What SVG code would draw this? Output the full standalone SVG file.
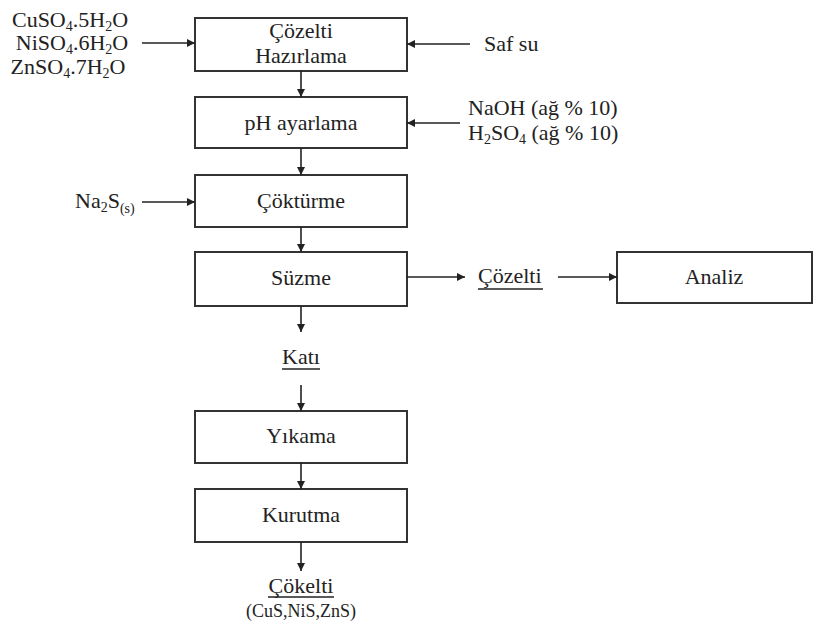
<svg xmlns="http://www.w3.org/2000/svg" width="818" height="626" viewBox="0 0 818 626" font-family="'Liberation Serif', 'DejaVu Serif', serif">
<style>
.box{fill:#fff;stroke:#333;stroke-width:2}
text{font-family:"Liberation Serif","DejaVu Serif",serif;font-size:22px;fill:#222}
.c{text-anchor:middle}
.sm{font-size:18px}
.con line{stroke:#222;stroke-width:1.6;marker-end:url(#ah)}
.ul{stroke:#222;stroke-width:1.3}
</style>
<defs>
<marker id="ah" viewBox="0 0 10 10" refX="10" refY="5" markerWidth="10" markerHeight="8" markerUnits="userSpaceOnUse" orient="auto">
<path d="M0,0 L10,5 L0,10 z" fill="#222"/>
</marker>
</defs>
<rect width="818" height="626" fill="#fff"/>
<g id="n-cozelti-hazirlama"><rect class="box" x="195" y="18" width="212" height="53"/>
<text class="c" x="301" y="38">Çözelti</text><text class="c" x="301" y="63">Hazırlama</text></g>
<g id="n-ph"><rect class="box" x="195" y="97" width="212" height="51"/><text class="c" x="301" y="130">pH ayarlama</text></g>
<g id="n-cokturme"><rect class="box" x="195" y="175" width="212" height="52"/><text class="c" x="301" y="208">Çöktürme</text></g>
<g id="n-suzme"><rect class="box" x="195" y="252" width="212" height="54"/><text class="c" x="301" y="285">Süzme</text></g>
<g id="n-analiz"><rect class="box" x="617" y="252" width="195" height="51"/><text class="c" x="714" y="284">Analiz</text></g>
<g id="n-yikama"><rect class="box" x="195" y="411" width="212" height="52"/><text class="c" x="301" y="443">Yıkama</text></g>
<g id="n-kurutma"><rect class="box" x="195" y="489" width="212" height="53"/><text class="c" x="301" y="522">Kurutma</text></g>
<g id="n-inputs">
<text class="c" x="70" y="27">CuSO<tspan font-size="14" dy="4">4</tspan><tspan dy="-4">.5H</tspan><tspan font-size="14" dy="4">2</tspan><tspan dy="-4">O</tspan></text>
<text class="c" x="72" y="50">NiSO<tspan font-size="14" dy="4">4</tspan><tspan dy="-4">.6H</tspan><tspan font-size="14" dy="4">2</tspan><tspan dy="-4">O</tspan></text>
<text class="c" x="68" y="74">ZnSO<tspan font-size="14" dy="4">4</tspan><tspan dy="-4">.7H</tspan><tspan font-size="14" dy="4">2</tspan><tspan dy="-4">O</tspan></text>
</g>
<g id="n-safsu"><text x="484" y="51">Saf su</text></g>
<g id="n-naoh">
<text x="468" y="115">NaOH (ağ % 10)</text>
<text x="468" y="140">H<tspan font-size="14" dy="4">2</tspan><tspan dy="-4">SO</tspan><tspan font-size="14" dy="4">4</tspan><tspan dy="-4"> (ağ % 10)</tspan></text>
</g>
<g id="n-na2s"><text x="75" y="208">Na<tspan font-size="14" dy="4">2</tspan><tspan dy="-4">S</tspan><tspan font-size="14" dy="5">(s)</tspan></text></g>
<g id="n-cozelti"><text x="478" y="283">Çözelti</text><line class="ul" x1="478" y1="289" x2="543" y2="289"/></g>
<g id="n-kati"><text class="c" x="301" y="364">Katı</text><line class="ul" x1="282" y1="369" x2="320" y2="369"/></g>
<g id="n-cokelti"><text class="c" x="301" y="593">Çökelti</text><line class="ul" x1="268" y1="597" x2="334" y2="597"/>
<text class="c sm" x="301" y="617">(CuS,NiS,ZnS)</text></g>
<g class="con" id="connectors">
<line x1="301" y1="71" x2="301" y2="97"/>
<line x1="301" y1="148" x2="301" y2="175"/>
<line x1="301" y1="227" x2="301" y2="252"/>
<line x1="301" y1="306" x2="301" y2="332"/>
<line x1="301" y1="385" x2="301" y2="411"/>
<line x1="301" y1="463" x2="301" y2="489"/>
<line x1="301" y1="542" x2="301" y2="571"/>
<line x1="142" y1="43" x2="195" y2="43"/>
<line x1="470" y1="44" x2="407" y2="44"/>
<line x1="460" y1="123" x2="407" y2="123"/>
<line x1="142" y1="202" x2="195" y2="202"/>
<line x1="407" y1="277" x2="465" y2="277"/>
<line x1="558" y1="277" x2="617" y2="277"/>
</g>
</svg>
